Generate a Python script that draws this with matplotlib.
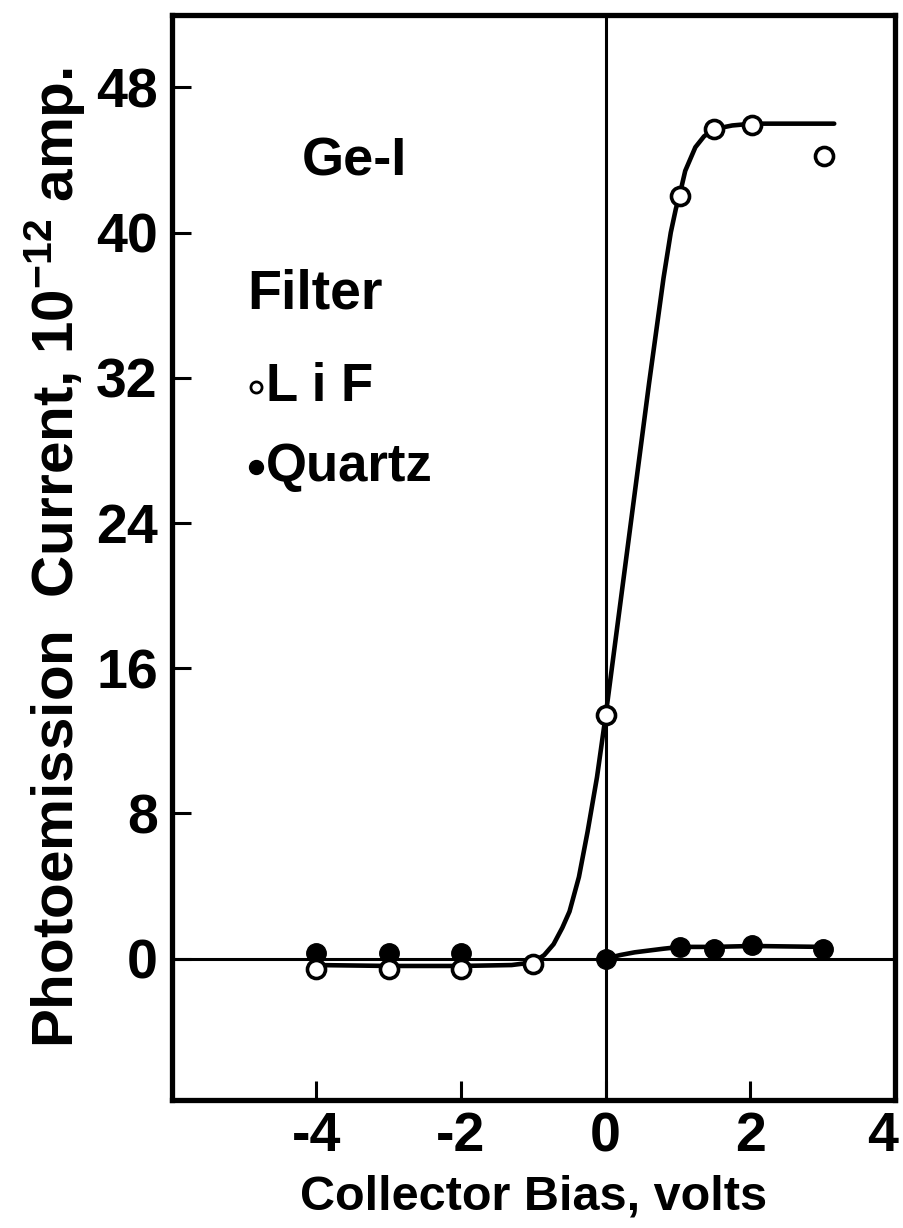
import matplotlib
matplotlib.use("Agg")
import matplotlib.pyplot as plt
from matplotlib.transforms import ScaledTranslation

lif_x = [-4.0, -3.0, -2.0, -1.0, 0.0, 1.03, 1.5, 2.03, 3.02]
lif_y = [-0.55, -0.55, -0.55, -0.3, 13.4, 42.0, 45.7, 45.9, 44.2]
quartz_x = [-4.0, -3.0, -2.0, 0.0, 1.03, 1.5, 2.03, 3.0]
quartz_y = [0.3, 0.3, 0.3, 0.0, 0.66, 0.55, 0.77, 0.55]

# hand-drawn guide curves
lif_curve_x = [-4.0, -3.0, -2.0, -1.3, -1.0, -0.85, -0.72, -0.6, -0.5, -0.37,
               -0.25, -0.12, 0.0, 0.2, 0.4, 0.6, 0.8, 0.9, 0.97, 1.03, 1.1,
               1.24, 1.36, 1.5, 1.75, 2.03, 2.5, 3.16]
lif_curve_y = [-0.35, -0.4, -0.4, -0.35, -0.2, 0.2, 0.8, 1.7, 2.6, 4.5,
               7.0, 10.0, 13.4, 19.5, 25.6, 31.7, 37.5, 40.0, 41.3, 42.2, 43.4,
               44.7, 45.3, 45.7, 45.9, 46.0, 46.0, 46.0]
quartz_curve_x = [0.0, 0.2, 0.4, 0.6, 0.8, 1.03, 1.5, 2.03, 3.0]
quartz_curve_y = [0.0, 0.2, 0.35, 0.45, 0.55, 0.65, 0.65, 0.7, 0.65]

x_ticks = [-4, -2, 0, 2, 4]
x_tick_labels = ["-4", "-2", "0", "2", "4"]
y_ticks = [0, 8, 16, 24, 32, 40, 48]

plt.rcParams.update({
    "font.family": ["Liberation Sans", "DejaVu Sans"],
    "font.weight": "bold",
    "mathtext.fontset": "custom",
    "mathtext.rm": "Liberation Sans:bold",
    "mathtext.default": "regular",
})

fig = plt.figure(figsize=(9.04, 12.28), dpi=100)
ax = fig.add_axes([0.190, 0.104, 0.800, 0.884])

ax.axhline(0, color="black", lw=2.2, zorder=1)
ax.axvline(0, color="black", lw=2.2, zorder=1)

ax.plot(lif_curve_x, lif_curve_y, color="black", lw=3.3, zorder=2,
        solid_capstyle="round", solid_joinstyle="round")
ax.plot(quartz_curve_x, quartz_curve_y, color="black", lw=3.3, zorder=2,
        solid_capstyle="round", solid_joinstyle="round")

ax.plot(lif_x, lif_y, "o", ms=13, mfc="white", mec="black", mew=2.6, zorder=4)
ax.plot(quartz_x, quartz_y, "o", ms=14, mfc="black", mec="black", zorder=3)

ax.set_xlim(-6.0, 3.97)
ax.set_ylim(-7.8, 52.0)
ax.set_xticks(x_ticks)
ax.set_yticks(y_ticks)
ax.set_xticklabels(x_tick_labels)
ax.tick_params(axis="both", direction="in", length=14, width=2.2,
               labelsize=40, pad=10)
ax.tick_params(axis="x", pad=8)
# the last x label sits just inside the page edge
last = ax.get_xticklabels()[-1]
last.set_transform(last.get_transform() + ScaledTranslation(-0.12, 0, fig.dpi_scale_trans))

for s in ax.spines.values():
    s.set_linewidth(3.8)

ax.set_xlabel("Collector Bias, volts", fontsize=35, fontweight="bold",
              labelpad=8)
ax.set_ylabel(r"Photoemission  Current, 10$^{-12}$ amp.", fontsize=42,
              fontweight="bold", labelpad=6)

ax.text(-3.48, 43.9, "Ge-I", fontsize=39, fontweight="bold",
        ha="center", va="center")
ax.text(-4.95, 36.6, "Filter", fontsize=40, fontweight="bold",
        ha="left", va="center")
ax.plot([-4.84], [31.5], "o", ms=8, mfc="white", mec="black", mew=2.0)
ax.text(-4.70, 31.5, "L i F", fontsize=38, fontweight="bold",
        ha="left", va="center")
ax.plot([-4.84], [27.1], "o", ms=10, mfc="black", mec="black")
ax.text(-4.70, 27.1, "Quartz", fontsize=38, fontweight="bold",
        ha="left", va="center")

fig.savefig("out.png", dpi=100, facecolor="white")
